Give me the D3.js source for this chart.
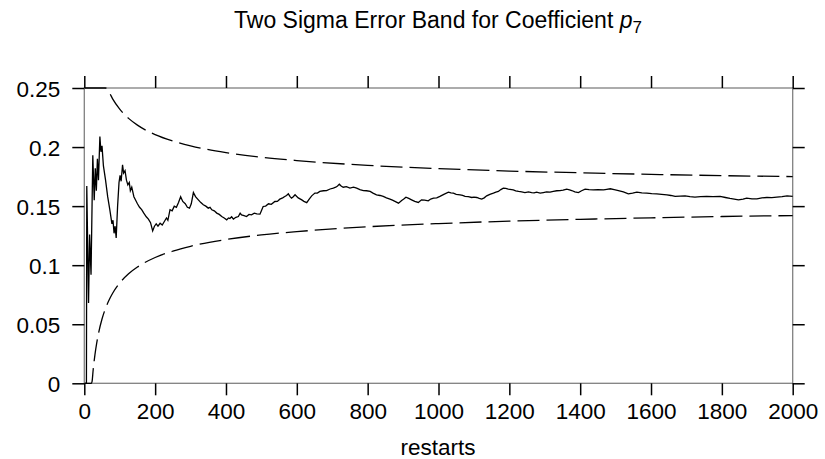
<!DOCTYPE html>
<html><head><meta charset="utf-8">
<script src="https://cdn.jsdelivr.net/npm/d3@7"></script>
<style>body{margin:0;background:#fff}svg{display:block}text{font-family:"Liberation Sans",Arial,sans-serif;fill:#000}</style>
</head><body>
<svg id="chart" width="825" height="459"></svg>
<script>
// Running estimate of p7 vs number of restarts
const restarts = [1,6,7,12,15,19,24,28,31,34,37,40,44,47,50,54,60,66,72,78,81,84,87,90,94,98,101,104,108,111,115,119,123,127,130,134,140,145,150,156,162,168,175,181,187,193,198,203,208,214,220,226,232,236,242,248,254,260,266,272,278,285,291,297,302,308,314,322,329,336,343,350,355,360,367,374,381,388,395,402,407,411,416,421,428,435,440,444,451,458,465,472,480,487,496,500,505,512,520,528,538,545,552,560,566,571,576,581,585,590,595,604,614,620,628,635,642,651,658,665,675,684,694,703,710,715,720,725,731,740,750,760,769,778,788,797,807,815,825,835,844,853,863,870,877,887,896,902,908,916,924,933,943,952,961,971,978,986,995,1004,1015,1028,1035,1042,1050,1061,1068,1075,1084,1094,1100,1108,1115,1122,1129,1136,1145,1155,1162,1169,1176,1183,1190,1197,1211,1218,1226,1235,1244,1254,1263,1270,1277,1287,1296,1305,1315,1324,1334,1343,1352,1362,1370,1376,1385,1395,1404,1414,1425,1437,1450,1466,1475,1485,1496,1508,1522,1536,1548,1560,1574,1588,1602,1616,1630,1645,1656,1668,1682,1696,1710,1724,1740,1757,1775,1795,1810,1823,1835,1847,1860,1870,1885,1899,1913,1927,1941,1955,1970,1984,1992,2000];
const estimate = [0,0,0.167,0.068,0.126,0.092,0.193,0.155,0.182,0.163,0.19,0.172,0.209,0.196,0.201,0.184,0.172,0.158,0.147,0.135,0.138,0.127,0.133,0.123,0.15,0.17,0.176,0.171,0.185,0.178,0.18,0.172,0.168,0.17,0.163,0.166,0.158,0.155,0.152,0.149,0.147,0.144,0.141,0.139,0.136,0.129,0.133,0.135,0.133,0.1355,0.134,0.137,0.14,0.138,0.147,0.146,0.15,0.149,0.153,0.158,0.154,0.152,0.149,0.1483,0.152,0.1615,0.158,0.1553,0.153,0.1511,0.15,0.1483,0.149,0.1469,0.146,0.1441,0.143,0.1412,0.14,0.1384,0.14,0.1395,0.141,0.139,0.1405,0.1412,0.144,0.1426,0.142,0.1412,0.143,0.1426,0.144,0.1435,0.1432,0.146,0.1497,0.15,0.152,0.1515,0.1539,0.154,0.1559,0.157,0.1581,0.159,0.1604,0.158,0.1568,0.158,0.1596,0.157,0.1553,0.154,0.153,0.156,0.1587,0.161,0.161,0.1624,0.163,0.1632,0.1645,0.1653,0.166,0.167,0.1686,0.167,0.166,0.1665,0.1652,0.166,0.1652,0.164,0.1632,0.163,0.1624,0.161,0.1596,0.159,0.1582,0.157,0.1559,0.155,0.154,0.1525,0.1548,0.156,0.1576,0.1565,0.1553,0.154,0.1531,0.1553,0.155,0.1545,0.156,0.1567,0.157,0.1582,0.16,0.1618,0.1612,0.161,0.16,0.1596,0.159,0.1582,0.158,0.1573,0.1576,0.1573,0.1565,0.1559,0.157,0.1587,0.16,0.161,0.1618,0.1624,0.164,0.1652,0.165,0.1644,0.1638,0.163,0.1624,0.162,0.1615,0.162,0.1615,0.1612,0.1618,0.161,0.1615,0.162,0.1618,0.1625,0.163,0.1632,0.1635,0.1644,0.1638,0.1632,0.162,0.1615,0.163,0.1644,0.164,0.1638,0.164,0.1638,0.1642,0.1647,0.164,0.1632,0.162,0.1604,0.161,0.1618,0.1612,0.161,0.1606,0.1604,0.16,0.1596,0.159,0.1582,0.1585,0.1587,0.158,0.1576,0.158,0.1582,0.158,0.1582,0.1573,0.1565,0.156,0.1553,0.156,0.1567,0.1562,0.1562,0.157,0.1573,0.1572,0.1576,0.158,0.1587,0.1585,0.1582];

// Two sigma band (upper / lower)
const bandRestarts = [1,10,20,22,25,30,35,40,50,60,70,80,100,125,150,200,250,300,400,500,600,800,1000,1200,1400,1600,1800,2000];
const upperBand = [0.89,0.391,0.323,0.315,0.306,0.293,0.283,0.275,0.263,0.2535,0.2465,0.2408,0.2321,0.2243,0.2186,0.2105,0.2051,0.201,0.1953,0.1914,0.1886,0.1845,0.1818,0.1797,0.1782,0.1769,0.1758,0.175];
const lowerBand = [-0.57,-0.074,-0.006,0.0016,0.0113,0.0241,0.0341,0.0421,0.0544,0.0635,0.0705,0.0762,0.0849,0.0927,0.0984,0.1065,0.1119,0.116,0.1217,0.1256,0.1284,0.1325,0.1352,0.1373,0.1388,0.1401,0.1412,0.142];

const xTicks = [0,200,400,600,800,1000,1200,1400,1600,1800,2000];
const yTicks = [0,0.05,0.1,0.15,0.2,0.25];
const yTickLabels = ["0","0.05","0.1","0.15","0.2","0.25"];

const svg = d3.select("#chart");
const L = 84.3, R = 792.7, T = 88, B = 383.3;
const x = d3.scaleLinear().domain([0,2000]).range([L,R]);
const y = d3.scaleLinear().domain([0,0.25]).range([B,T]).clamp(true);
const FS = "22.5px";

// frame
svg.append("rect").attr("x",L).attr("y",T).attr("width",R-L).attr("height",B-T)
  .attr("fill","none").attr("stroke","#808080").attr("stroke-width",1.3);

const fmtY = d => yTickLabels[yTicks.indexOf(d)];
const axB = d3.axisBottom(x).tickValues(xTicks).tickSize(12).tickFormat(d3.format("d"));
const axT = d3.axisTop(x).tickValues(xTicks).tickSize(12).tickFormat("");
const axL = d3.axisLeft(y).tickValues(yTicks).tickSize(12).tickFormat(fmtY);
const axR = d3.axisRight(y).tickValues(yTicks).tickSize(12).tickFormat("");

function styleAxis(g){
  g.select(".domain").remove();
  g.selectAll(".tick line").attr("stroke","#000").attr("stroke-width",1.5);
  g.selectAll(".tick text").style("font-size",FS).attr("fill","#000");
}
svg.append("g").attr("transform",`translate(0,${B})`).call(axB).call(styleAxis)
  .selectAll(".tick text").attr("dy",null).attr("y",36);
svg.append("g").attr("transform",`translate(0,${T})`).call(axT).call(styleAxis);
svg.append("g").attr("transform",`translate(${L},0)`).call(axL).call(styleAxis)
  .selectAll(".tick text").attr("x",-24).attr("dy","0.36em");
svg.append("g").attr("transform",`translate(${R},0)`).call(axR).call(styleAxis);

const line = d3.line().x(d=>x(d[0])).y(d=>y(d[1]));
const bandLine = d3.line().x(d=>x(d[0])).y(d=>y(d[1])).curve(d3.curveMonotoneX);

svg.append("path").datum(bandRestarts.map((r,i)=>[r,upperBand[i]]))
  .attr("d",bandLine).attr("fill","none").attr("stroke","#000").attr("stroke-width",1.3)
  .attr("stroke-dasharray","22,7");
svg.append("path").datum(bandRestarts.map((r,i)=>[r,lowerBand[i]]))
  .attr("d",bandLine).attr("fill","none").attr("stroke","#000").attr("stroke-width",1.3)
  .attr("stroke-dasharray","22,7");
svg.append("path").datum(restarts.map((r,i)=>[r,estimate[i]]))
  .attr("d",line).attr("fill","none").attr("stroke","#000").attr("stroke-width",1.3)
  .attr("stroke-linejoin","miter");

// titles
const title = svg.append("text").attr("x",438).attr("y",28).attr("text-anchor","middle").style("font-size","23px");
title.append("tspan").text("Two Sigma Error Band for Coefficient ");
title.append("tspan").style("font-style","italic").text("p");
title.append("tspan").attr("dy",5).style("font-size","17px").text("7");
svg.append("text").attr("x",438).attr("y",455).attr("text-anchor","middle").style("font-size",FS).text("restarts");
</script>
</body></html>
